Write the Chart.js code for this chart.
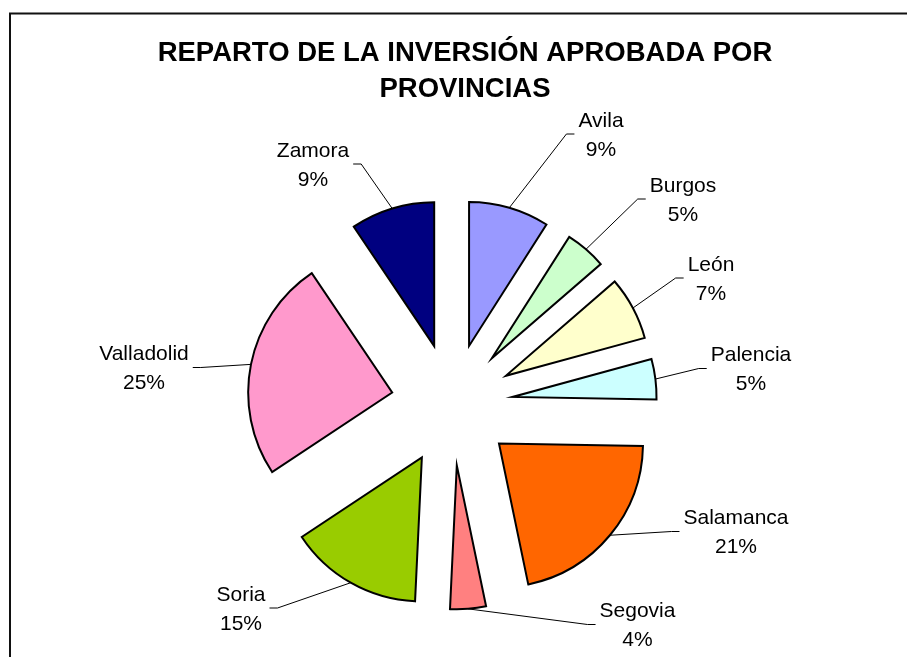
<!DOCTYPE html>
<html>
<head>
<meta charset="utf-8">
<script src="https://cdn.jsdelivr.net/npm/chart.js@4/dist/chart.umd.min.js"></script>
<style>
  html, body { margin: 0; padding: 0; background: #ffffff; }
  #wrap { width: 907px; height: 657px; position: relative; }
</style>
</head>
<body>
<div id="wrap"><canvas id="c" width="907" height="657"></canvas></div>
<script>
// ---- data ----
const titleLines = ['REPARTO DE LA INVERSIÓN APROBADA POR', 'PROVINCIAS'];
const provinces = ['Avila', 'Burgos', 'León', 'Palencia', 'Salamanca', 'Segovia', 'Soria', 'Valladolid', 'Zamora'];
const shares = [9.0, 4.6, 7.1, 4.5, 21.4, 4.0, 14.9, 24.8, 9.4];
const sliceColors = ['#9999FF', '#CCFFCC', '#FFFFCC', '#CCFFFF', '#FF6600', '#FF8080', '#99CC00', '#FF99CC', '#000080'];

// ---- layout (label placement relative to the pie centre) ----
const labelOffsets = [[149, -270.5], [231, -205.5], [259, -126.5], [299, -36], [284, 127],
                      [185.5, 220], [-211, 203.5], [-308, -37], [-139, -240.5]];

const frameTitlePlugin = {
  id: 'frameTitle',
  beforeDraw(chart) {
    const ctx = chart.ctx;
    ctx.save();
    ctx.fillStyle = '#ffffff';
    ctx.fillRect(0, 0, chart.width, chart.height);
    ctx.strokeStyle = '#111111';
    ctx.lineWidth = 2;
    ctx.strokeRect(10, 13.5, 1200, 1200);
    ctx.fillStyle = '#000000';
    ctx.font = 'bold 27.5px "Liberation Sans", Arial, sans-serif';
    ctx.textAlign = 'center';
    ctx.textBaseline = 'alphabetic';
    ctx.fillText(titleLines[0], 465, 61);
    ctx.fillText(titleLines[1], 465, 97);
    ctx.restore();
  }
};

const explodePlugin = {
  id: 'explode',
  beforeDatasetDraw(chart, args, opts) {
    const ctx = chart.ctx;
    const d = opts.distance || 0;
    args.meta.data.forEach(arc => {
      const mid = (arc.startAngle + arc.endAngle) / 2;
      ctx.save();
      ctx.translate(Math.cos(mid) * d, Math.sin(mid) * d);
      arc.draw(ctx);
      ctx.restore();
    });
    return false;
  }
};

const labelPlugin = {
  id: 'sliceLabels',
  afterDatasetsDraw(chart, args, opts) {
    const ctx = chart.ctx;
    const meta = chart.getDatasetMeta(0);
    const data = chart.data.datasets[0].data;
    const total = data.reduce((a, b) => a + b, 0);
    const d = opts.distance || 0;
    ctx.save();
    ctx.font = '21px "Liberation Sans", Arial, sans-serif';
    ctx.fillStyle = '#000000';
    ctx.strokeStyle = '#000000';
    ctx.lineWidth = 1;
    ctx.textAlign = 'center';
    ctx.textBaseline = 'alphabetic';
    meta.data.forEach((arc, i) => {
      const mid = (arc.startAngle + arc.endAngle) / 2;
      const r = arc.outerRadius + d;
      const px = arc.x + Math.cos(mid) * r;
      const py = arc.y + Math.sin(mid) * r;
      const cx = arc.x + opts.offsets[i][0];
      const cy = arc.y + opts.offsets[i][1];
      const name = chart.data.labels[i];
      const pct = Math.round(data[i] / total * 100) + '%';
      const w = Math.max(ctx.measureText(name).width, ctx.measureText(pct).width);
      let ex, kx;
      if (cx > arc.x) {
        ex = cx - w / 2 - 4; kx = ex - 8;
      } else {
        ex = cx + w / 2 + 4; kx = ex + 8;
      }
      ctx.beginPath();
      ctx.moveTo(px, py);
      ctx.lineTo(kx, cy);
      ctx.lineTo(ex, cy);
      ctx.stroke();
      ctx.fillText(name, cx, cy - 7.5);
      ctx.fillText(pct, cx, cy + 21.5);
    });
    ctx.restore();
  }
};

new Chart(document.getElementById('c'), {
  type: 'pie',
  data: {
    labels: provinces,
    datasets: [{
      data: shares,
      backgroundColor: sliceColors,
      borderColor: '#000000',
      borderWidth: 2,
      borderJoinStyle: 'miter',
      hoverOffset: 0,
      radius: 144
    }]
  },
  options: {
    responsive: false,
    animation: false,
    events: [],
    layout: { padding: { left: 0, right: 3, top: 152, bottom: 0 } },
    plugins: {
      legend: { display: false },
      title: { display: false },
      tooltip: { enabled: false },
      explode: { distance: 61 },
      sliceLabels: { distance: 61, offsets: labelOffsets }
    }
  },
  plugins: [frameTitlePlugin, explodePlugin, labelPlugin]
});
</script>
</body>
</html>
